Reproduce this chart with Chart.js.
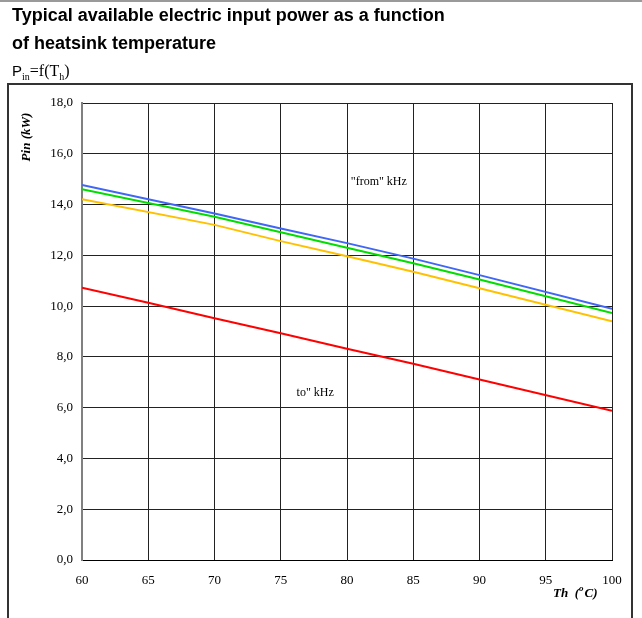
<!DOCTYPE html>
<html>
<head>
<meta charset="utf-8">
<script src="https://cdn.jsdelivr.net/npm/chart.js@4/dist/chart.umd.min.js"></script>
<style>
  html, body { margin: 0; padding: 0; background: #fff; }
  #wrap { position: relative; width: 642px; height: 618px; }
</style>
</head>
<body>
<div id="wrap"><canvas id="c" width="642" height="618"></canvas></div>
<script>
// Heatsink temperature Th (°C) and available input power Pin (kW)
const temps = [60, 65, 70, 75, 80, 85, 90, 95, 100];
const pinBlue   = [14.77, null, 13.65, 13.06, 12.48, 11.87, 11.22, null, 9.89];
const pinGreen  = [14.60, null, 13.52, 12.91, 12.30, 11.69, 11.05, null, 9.73];
const pinOrange = [14.21, null, 13.20, 12.56, 11.96, 11.35, 10.70, null, 9.40];
const pinRed    = [10.72, 10.13, 9.52, 8.93, 8.32, 7.73, 7.11, null, 5.88];

const xTickValues = [60, 65, 70, 75, 80, 85, 90, 95, 100];
const yTickValues = [0, 2, 4, 6, 8, 10, 12, 14, 16, 18];

const titleLines = ['Typical available electric input power as a function', 'of heatsink temperature'];
const curveNotes = [
  { text: '"from" kHz', x: 82.4, y: 14.9 },
  { text: 'to" kHz', x: 77.6, y: 6.6 }
];

const serif = '"Liberation Serif", "Times New Roman", serif';
const sans = '"Liberation Sans", Arial, sans-serif';

function toPoints(values) {
  return temps.map((t, i) => ({ x: t, y: values[i] }));
}

function lineSet(values, color) {
  return {
    data: toPoints(values),
    borderColor: color,
    backgroundColor: color,
    borderWidth: 2,
    pointRadius: 0,
    tension: 0,
    spanGaps: true,
    fill: false
  };
}

const decor = {
  id: 'decor',
  afterDraw(chart) {
    const ctx = chart.ctx;
    const xs = chart.scales.x, ys = chart.scales.y;
    ctx.save();

    // thin rule at the very top of the sheet
    ctx.strokeStyle = '#9a9a9a';
    ctx.lineWidth = 2;
    ctx.beginPath(); ctx.moveTo(0, 1); ctx.lineTo(642, 1); ctx.stroke();

    // heading
    ctx.fillStyle = '#000';
    ctx.textAlign = 'left';
    ctx.textBaseline = 'alphabetic';
    ctx.font = 'bold 18px ' + sans;
    ctx.fillText(titleLines[0], 12, 21);
    ctx.fillText(titleLines[1], 12, 49);

    // formula Pin = f(Th)
    let px = 12;
    ctx.font = '15px ' + sans;
    ctx.fillText('P', px, 76); px += ctx.measureText('P').width;
    ctx.font = '10px ' + serif;
    ctx.fillText('in', px, 80); px += ctx.measureText('in').width;
    ctx.font = '16px ' + serif;
    ctx.fillText('=f(T', px, 76); px += ctx.measureText('=f(T').width;
    ctx.font = '10px ' + serif;
    ctx.fillText('h', px, 80); px += ctx.measureText('h').width;
    ctx.font = '16px ' + serif;
    ctx.fillText(')', px, 76);

    // frame around the chart
    ctx.strokeStyle = '#333';
    ctx.lineWidth = 2;
    ctx.strokeRect(8, 84, 624, 560);

    // y axis title
    ctx.save();
    ctx.translate(27, 137);
    ctx.rotate(-Math.PI / 2);
    ctx.font = 'italic bold 13px ' + serif;
    ctx.textAlign = 'center';
    ctx.textBaseline = 'middle';
    ctx.fillText('Pin (kW)', 0, 0);
    ctx.restore();

    // x axis title
    ctx.font = 'italic bold 13px ' + serif;
    ctx.textAlign = 'left';
    ctx.textBaseline = 'alphabetic';
    let tx = 553;
    ctx.fillText('Th  (', tx, 597); tx += ctx.measureText('Th  (').width;
    ctx.font = 'italic bold 9px ' + serif;
    ctx.fillText('o', tx, 591); tx += ctx.measureText('o').width + 1;
    ctx.font = 'italic bold 13px ' + serif;
    ctx.fillText('C)', tx, 597);

    // notes on the curves
    ctx.font = '12px ' + serif;
    ctx.textAlign = 'center';
    ctx.textBaseline = 'middle';
    curveNotes.forEach(n => {
      ctx.fillText(n.text, xs.getPixelForValue(n.x), ys.getPixelForValue(n.y));
    });

    ctx.restore();
  }
};

new Chart(document.getElementById('c'), {
  type: 'line',
  data: {
    datasets: [
      lineSet(pinBlue, '#3f66f5'),
      lineSet(pinGreen, '#00dd00'),
      lineSet(pinOrange, '#ffc000'),
      lineSet(pinRed, '#ff0000')
    ]
  },
  options: {
    responsive: false,
    animation: false,
    devicePixelRatio: 1,
    layout: { padding: { left: 0, top: 103, right: 30, bottom: 0 } },
    plugins: { legend: { display: false }, tooltip: { enabled: false } },
    scales: {
      x: {
        type: 'linear',
        min: 60, max: 100,
        afterBuildTicks: s => { s.ticks = xTickValues.map(v => ({ value: v })); },
        afterFit: s => { s.height = 58; },
        ticks: {
          color: '#000',
          font: { family: serif, size: 13 },
          padding: 13,
          maxRotation: 0,
          callback: v => String(v)
        },
        grid: { color: '#222', lineWidth: 1, drawTicks: false },
        border: { color: '#000', width: 1 }
      },
      y: {
        min: 0, max: 18,
        afterBuildTicks: s => { s.ticks = yTickValues.map(v => ({ value: v })); },
        afterFit: s => { s.width = 82; },
        ticks: {
          color: '#000',
          font: { family: serif, size: 13 },
          padding: 9,
          callback: v => Number(v).toFixed(1).replace('.', ',')
        },
        grid: { color: '#222', lineWidth: 1, drawTicks: false },
        border: { color: '#808080', width: 2 }
      }
    }
  },
  plugins: [decor]
});
</script>
</body>
</html>
